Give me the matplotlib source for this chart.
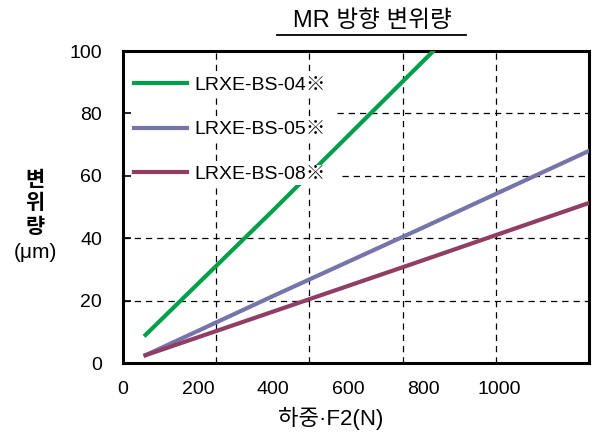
import matplotlib
matplotlib.use('Agg')
import matplotlib.pyplot as plt
from matplotlib.lines import Line2D

plt.rcParams['font.family'] = ['Liberation Sans', 'Noto Sans CJK KR', 'DejaVu Sans']

# 데이터
load_04 = [60, 400, 830]
disp_04 = [9, 49, 100.5]
load_05 = [60, 400, 800, 1240]
disp_05 = [2.5, 21.5, 43.5, 68]
load_08 = [60, 400, 800, 1240]
disp_08 = [2.5, 16.5, 33, 51.3]
names = ['LRXE-BS-04※', 'LRXE-BS-05※', 'LRXE-BS-08※']
colors = ['#00a04a', '#7674a9', '#903e63']
x_ticks = [0, 200, 400, 600, 800, 1000]
y_ticks = [0, 20, 40, 60, 80, 100]
x_max = 1240

fig = plt.figure(figsize=(5.94, 4.34), dpi=100)
ax = fig.add_axes([123/594, 1-363/434, 466/594, 312/434])

ax.plot(load_04, disp_04, color=colors[0], lw=3, label=names[0], zorder=3)
ax.plot(load_05, disp_05, color=colors[1], lw=3, label=names[1], zorder=3)
ax.plot(load_08, disp_08, color=colors[2], lw=3, label=names[2], zorder=3)

ax.set_xlim(0, x_max)
ax.set_ylim(0, 100)

# 격자선: 세로선은 축을 5등분
for k in range(1, 5):
    ax.axvline(x_max*k/5, color='black', lw=0.9, ls=(0, (5, 4)), zorder=1)
for yv in [20, 40]:
    ax.axhline(yv, color='black', lw=0.9, ls=(0, (5, 4)), zorder=1)
ax.axhline(60, xmin=0.47, color='black', lw=0.9, ls=(0, (5, 4)), zorder=1)
ax.axhline(80, xmin=0.46, color='black', lw=0.9, ls=(0, (5, 4)), zorder=1)

ax.set_xticks(x_ticks)
ax.set_xticklabels([str(v) for v in x_ticks])
ax.set_yticks(y_ticks)
ax.tick_params(axis='x', length=0, pad=13, labelsize=14)
ax.tick_params(axis='y', direction='in', length=6, width=1.2, pad=15, labelsize=14)
for s in ax.spines.values():
    s.set_linewidth(2.2)

leg = ax.legend(loc='upper left', bbox_to_anchor=(11/466, 1-25/312), frameon=False,
                fontsize=14, handlelength=2.7, handletextpad=0.4, labelspacing=1.4,
                borderpad=0, borderaxespad=0)
for t in leg.get_texts():
    t.set_bbox(dict(facecolor='white', edgecolor='none', pad=1))

# 제목 + 밑줄
fig.text(372/594, 1-21/434, 'MR 방향 변위량', fontsize=17, ha='center', va='center')
fig.add_artist(Line2D([277/594, 466/594], [1-34.5/434, 1-34.5/434], color='black', lw=1.3))

# 축 제목
fig.text(331/594, 1-418/434, '하중·F2(N)', fontsize=16, ha='center', va='center')
for ch, yp in zip('변위량', [180, 203, 227]):
    fig.text(35/594, 1-yp/434, ch, fontsize=15, fontweight='bold', ha='center', va='center')
fig.text(35/594, 1-253/434, '(μm)', fontsize=15, ha='center', va='center')

fig.savefig('out.png', dpi=100)
